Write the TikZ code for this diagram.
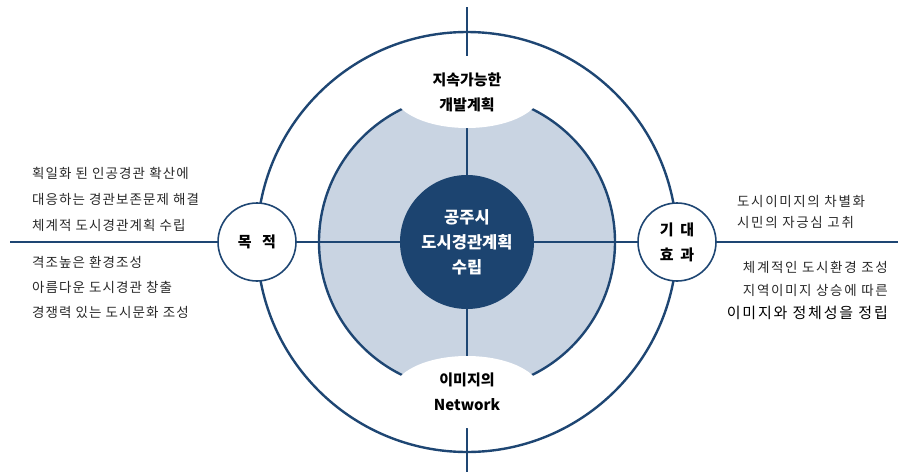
\documentclass[tikz,border=0pt]{standalone}
\usepackage{fontspec}
\newfontfamily\kr{Noto Sans CJK KR}
\newfontfamily\krl[LetterSpace=8]{Noto Sans CJK KR}
\newfontfamily\krr[LetterSpace=12]{Noto Sans CJK KR}
\usetikzlibrary{shapes.geometric}
\definecolor{navy}{RGB}{30,70,115}
\definecolor{lightfill}{RGB}{201,212,226}
\definecolor{darkc}{RGB}{28,68,112}
\definecolor{txt}{RGB}{40,40,40}
\begin{document}
\begin{tikzpicture}[x=1pt,y=-1pt,
  axis/.style={draw=navy, line width=2.4pt},
  ring/.style={circle, draw=navy, line width=2.4pt, inner sep=0pt},
  blob/.style={ellipse, fill=white, inner sep=0pt, minimum width=148pt, minimum height=72pt},
  small/.style={circle, draw=navy, line width=1.6pt, fill=white, inner sep=0pt, minimum size=78pt, font=\kr\bfseries\fontsize{15}{19}\selectfont, align=center, text=black},
  side/.style={font=\krl\fontsize{13.5}{16}\selectfont, text=txt, inner sep=0pt},
  rside/.style={font=\krr\fontsize{13.5}{16}\selectfont, text=txt, inner sep=0pt},
  btext/.style={font=\kr\bfseries\fontsize{15}{25}\selectfont, align=center, text=black}
]
\useasboundingbox (0,0) rectangle (898,472);
% shaded circle
\node[ring, fill=lightfill, minimum size=296pt] (mid) at (467,242) {};
% axes
\coordinate (L) at (10,242);
\coordinate (R) at (898,242);
\coordinate (T) at (467,7);
\coordinate (B) at (467,472);
\draw[axis] (L) -- (R);
\draw[axis] (T) -- (B);
% outer circle
\node[ring, minimum size=420pt] (outer) at (467,242) {};
% blobs
\node[blob] (topblob) at (467,92) {};
\node[blob] (botblob) at (467,392) {};
\node[btext] at (467,92) {지속가능한\\개발계획};
\node[btext] at (467,392) {이미지의\\Network};
% center circle
\node[circle, fill=darkc, inner sep=0pt, minimum size=134pt, text=white, align=center,
      font=\kr\bfseries\fontsize{16.5}{25}\selectfont] (core) at (467,242) {공주시\\도시경관계획\\수립};
% small circles
\node[small] (goal) at (257,242) {목\hspace{0.7em}적};
\node[small, font=\kr\bfseries\fontsize{15}{25}\selectfont] (effect) at (677,242) {기\hspace{0.45em}대\\효\hspace{0.45em}과};
% left texts
\node[side, anchor=west] (l1) at (32,173) {획일화 된 인공경관 확산에};
\node[side, anchor=west] (l2) at (32,199) {대응하는 경관보존문제 해결};
\node[side, anchor=west] (l3) at (32,225) {체계적 도시경관계획 수립};
\node[side, anchor=west] (l4) at (32,262) {격조높은 환경조성};
\node[side, anchor=west] (l5) at (32,287) {아름다운 도시경관 창출};
\node[side, anchor=west] (l6) at (32,312) {경쟁력 있는 도시문화 조성};
% right texts
\node[rside, anchor=west] (r1) at (737,201) {도시이미지의 차별화};
\node[rside, anchor=west] (r2) at (737,222) {시민의 자긍심 고취};
\node[rside, anchor=east] (r3) at (888,267) {체계적인 도시환경 조성};
\node[rside, anchor=east] (r4) at (888,290) {지역이미지 상승에 따른};
\node[rside, anchor=east, text=black, font=\krr\fontsize{15}{18}\selectfont] (r5) at (888,313) {이미지와 정체성을 정립};
\end{tikzpicture}
\end{document}
